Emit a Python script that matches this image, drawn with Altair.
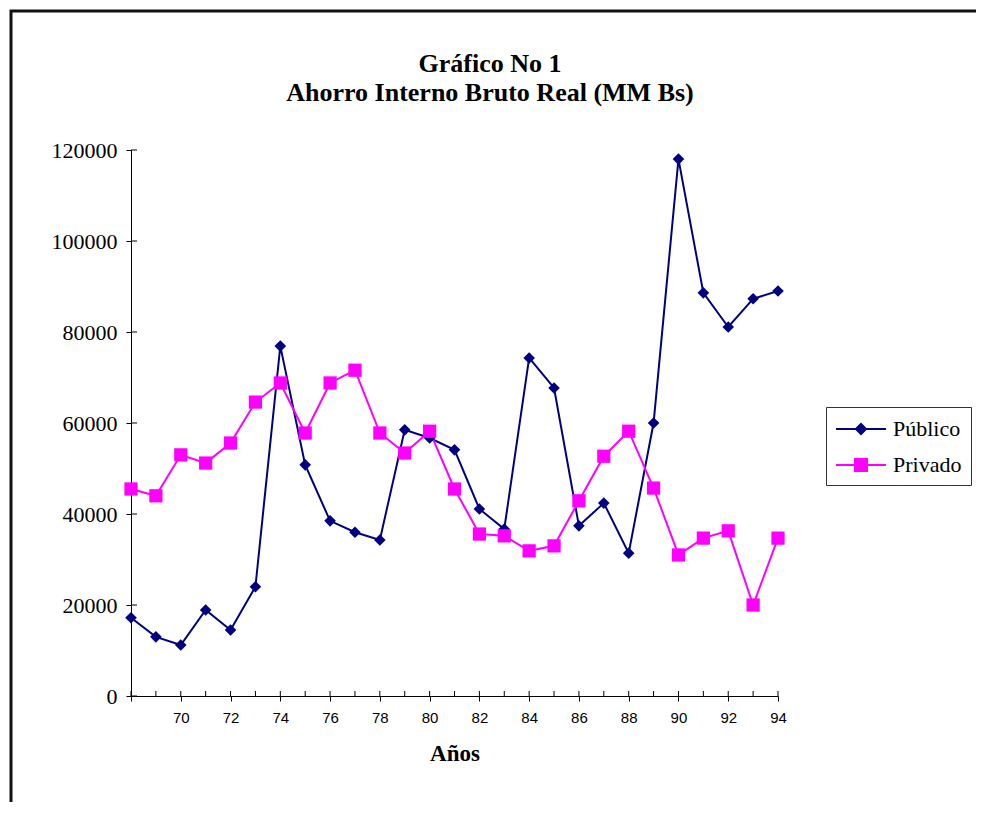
import altair as alt
import pandas as pd

years = list(range(68, 95))
publico = [17200, 13000, 11200, 18900, 14500, 24000, 76900, 50800, 38500, 36000,
           34300, 58500, 56700, 54100, 41100, 36700, 74300, 67700, 37400, 42400,
           31400, 60000, 118000, 88600, 81100, 87300, 89000]
privado = [45500, 44000, 53000, 51200, 55600, 64600, 68800, 57800, 68800, 71600,
           57800, 53400, 58200, 45500, 35600, 35200, 31900, 33000, 42900, 52700,
           58200, 45700, 31000, 34700, 36300, 20000, 34700]
series = ["Público", "Privado"]
colors = ["#000080", "#FF00FF"]
y_ticks = [0, 20000, 40000, 60000, 80000, 100000, 120000]
title_lines = ["Gráfico No 1", "Ahorro Interno Bruto Real (MM Bs)"]

df = pd.DataFrame({
    "year": years * 2,
    "value": publico + privado,
    "serie": [series[0]] * len(years) + [series[1]] * len(years),
})

SERIF = "Liberation Serif"
SANS = "Liberation Sans"

x_enc = alt.X("year:Q", scale=alt.Scale(domain=[68, 94], nice=False, zero=False),
              axis=alt.Axis(title="Años", values=years,
                            labelExpr="datum.value % 2 == 0 && datum.value > 68 ? datum.value : ''",
                            labelFont=SANS, labelFontSize=15, labelColor="black",
                            labelPadding=9, tickSize=5, tickColor="black",
                            domainColor="black", grid=False, labelFlush=False,
                            titleFont=SERIF, titleFontSize=23, titleFontWeight="bold",
                            titleColor="black", titlePadding=17))
y_enc = alt.Y("value:Q", scale=alt.Scale(domain=[0, 120000], nice=False),
              axis=alt.Axis(title=None, values=y_ticks, format="d",
                            labelFont=SERIF, labelFontSize=22, labelColor="black",
                            labelPadding=9, tickSize=5, tickColor="black",
                            domainColor="black", grid=False))

base = alt.Chart(df)


def series_layers(name, color, shape, size):
    sub = base.transform_filter(alt.datum.serie == name)
    ln = sub.mark_line(strokeWidth=2, color=color).encode(x=x_enc, y=y_enc)
    pt = sub.mark_point(shape=shape, filled=True, size=size, opacity=1, color=color).encode(
        x="year:Q", y="value:Q")
    return ln, pt


l1, p1 = series_layers(series[0], colors[0], "diamond", 135)
l2, p2 = series_layers(series[1], colors[1], "square", 175)

# inner halves of the crossing tick marks (axis ticks draw the outer halves)
x_inner = alt.Chart(pd.DataFrame({"year": years})).mark_rule(color="black", strokeWidth=1).encode(
    x="year:Q", y=alt.value(541), y2=alt.value(546))
y_inner = alt.Chart(pd.DataFrame({"value": y_ticks})).mark_rule(color="black", strokeWidth=1).encode(
    y="value:Q", x=alt.value(0), x2=alt.value(6))

# legend symbols (unit = 12px): a line segment with the marker drawn as nested strokes
diamond_path = ("M-1,0H3.167"
                "M0.663,0L1.083,-0.42L1.503,0L1.083,0.42Z"
                "M0.833,0L1.083,-0.25L1.333,0L1.083,0.25Z"
                "M1.0,0L1.083,-0.083L1.166,0L1.083,0.083Z")
square_path = ("M-1,0H3.167"
               "M0.583,-0.5H1.583V0.5H0.583Z"
               "M0.75,-0.333H1.416V0.333H0.75Z"
               "M0.916,-0.167H1.25V0.167H0.916Z"
               "M1.05,-0.03H1.116V0.03H1.05Z")

legend_layer = base.transform_filter("false").mark_point(
    filled=False, size=576, opacity=1, strokeWidth=2
).encode(
    x="year:Q", y="value:Q",
    color=alt.Color("serie:N", scale=alt.Scale(domain=series, range=colors),
                    legend=alt.Legend(title=None, orient="none", legendX=695, legendY=257,
                                      labelFont=SERIF, labelFontSize=22, labelColor="black",
                                      symbolSize=576, symbolStrokeWidth=2,
                                      labelOffset=32, rowPadding=12, padding=9,
                                      strokeColor="#333333", fillColor="white",
                                      symbolOpacity=1)),
    shape=alt.Shape("serie:N", scale=alt.Scale(domain=series, range=[diamond_path, square_path])),
)

border = alt.Chart(pd.DataFrame({"a": [0]})).mark_rect(
    fillOpacity=0, stroke="#111111", strokeWidth=3, clip=False
).encode(x=alt.value(-120), x2=alt.value(1000), y=alt.value(-139), y2=alt.value(800))

title_style = dict(font=SERIF, fontSize=26, fontWeight="bold", color="black",
                   align="center", baseline="alphabetic")
t1 = alt.Chart(pd.DataFrame({"a": [0]})).mark_text(**title_style).encode(
    x=alt.value(359), y=alt.value(-78), text=alt.value(title_lines[0]))
t2 = alt.Chart(pd.DataFrame({"a": [0]})).mark_text(**title_style).encode(
    x=alt.value(359), y=alt.value(-49), text=alt.value(title_lines[1]))

chart = alt.layer(border, t1, t2, x_inner, y_inner, l1, l2, p1, p2, legend_layer).properties(
    width=647, height=546,
    padding={"left": 123, "top": 142, "right": 198, "bottom": 106},
    autosize=alt.AutoSizeParams(type="none"),
).configure(background="white").configure_view(stroke=None)

chart.save("out.html", embed_options={"renderer": "svg", "actions": False})
